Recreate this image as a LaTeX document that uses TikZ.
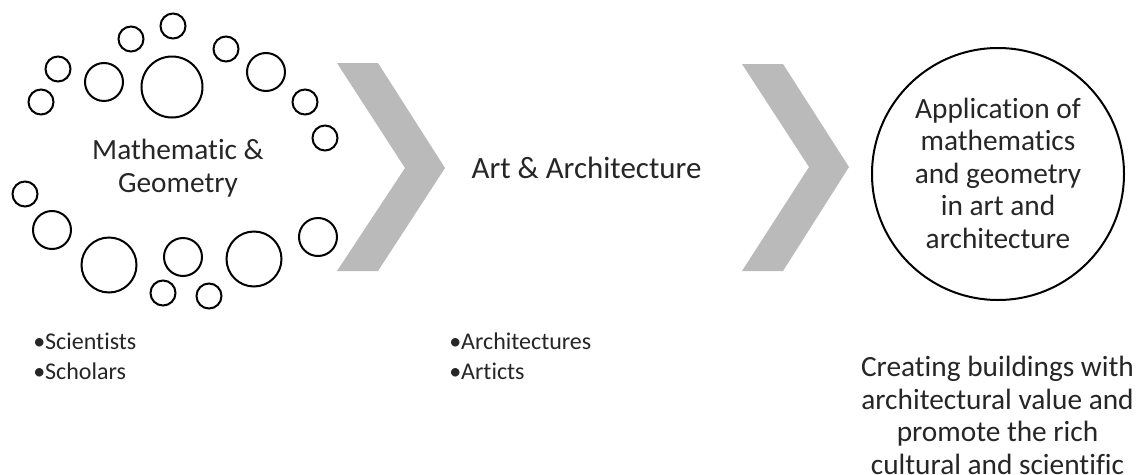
\documentclass[tikz,border=0pt]{standalone}
\usepackage{fontspec}
\setmainfont[Ligatures=NoCommon]{Carlito}
\definecolor{chev}{HTML}{BABABA}
\definecolor{txt}{HTML}{262626}
\tikzset{
  x=0.75pt,y=-0.75pt,
  ring/.style={circle,draw=black,line width=1.5pt,inner sep=0pt,outer sep=0pt,minimum size=#1*1.5pt},
  chevron/.style={fill=chev,draw=none},
  big/.style={text=txt,align=center,font=\fontsize{22}{24.4}\selectfont,inner sep=0pt},
  wide/.style={text=txt,align=center,font=\fontsize{23.2}{24.4}\selectfont,inner sep=0pt},
  small/.style={text=txt,align=left,font=\fontsize{18}{22}\selectfont,inner sep=0pt,anchor=west}
}
\begin{document}
\begin{tikzpicture}
\useasboundingbox (0,0) rectangle (1140,475);
\fill[white] (0,0) rectangle (1140,475);
\node[ring=12.5] (c1) at (173,26) {};
\node[ring=12.5] (c2) at (131,39) {};
\node[ring=12.5] (c3) at (58,69) {};
\node[ring=12.5] (c4) at (41,102) {};
\node[ring=19] (c5) at (104,82) {};
\node[ring=30.5] (c6) at (172,87) {};
\node[ring=12.5] (c7) at (226,49) {};
\node[ring=19] (c8) at (266,72) {};
\node[ring=12.5] (c9) at (305,102) {};
\node[ring=12.5] (c10) at (325,138) {};
\node[ring=12.5] (c11) at (25,194) {};
\node[ring=19] (c12) at (52,230) {};
\node[ring=27.5] (c13) at (109,265) {};
\node[ring=19] (c14) at (183,257) {};
\node[ring=27.5] (c15) at (254,259) {};
\node[ring=19] (c16) at (318,237) {};
\node[ring=12.5] (c17) at (163,293) {};
\node[ring=12.5] (c18) at (209,296) {};
\fill[chevron] (337,63) -- (378,63) -- (445,168) -- (378,271) -- (337,271) -- (405,168) -- cycle;
\fill[chevron] (742,64) -- (783,64) -- (849,167) -- (783,271) -- (742,271) -- (809,167) -- cycle;
\node[ring=126] (goal) at (998,174) {};
\node[big] (math) at (178,168) {Mathematic \&\\Geometry};
\node[wide] (art) at (586.5,168) {Art \& Architecture};
\node[big] (app) at (998,173) {Application of\\mathematics\\and geometry\\in art and\\architecture};
\node[big,anchor=north] (create) at (997.5,356) {Creating buildings with\\architectural value and\\promote the rich\\cultural and scientific};
\node[small] (sci) at (33,341) {•Scientists};
\node[small] (sch) at (33,371) {•Scholars};
\node[small] (arc) at (449,341) {•Architectures};
\node[small] (atc) at (449,371) {•Articts};
\end{tikzpicture}
\end{document}
